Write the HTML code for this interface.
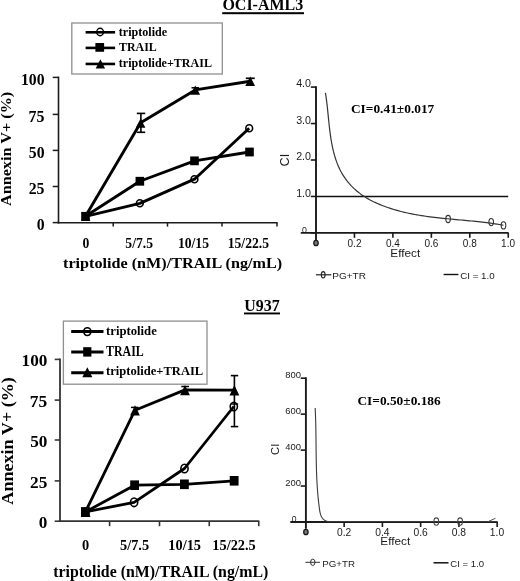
<!DOCTYPE html>
<html><head><meta charset="utf-8"><style>
html,body{margin:0;padding:0;background:#fff;}
body{width:520px;height:581px;overflow:hidden;}
svg{display:block;filter:grayscale(1);}
</style></head><body>
<svg width="520" height="581" viewBox="0 0 520 581">
<rect width="520" height="581" fill="#fff"/>
<text transform="matrix(0.16016 0 0 0.16269 222.40 10.24)" font-family='"Liberation Serif", serif' font-weight="bold" font-size="100" fill="#000">OCI-AML3</text>
<rect x="222.2" y="12.2" width="81.8" height="2.0" fill="#000"/>
<rect x="71.8" y="23" width="150.5" height="51" fill="none" stroke="#8f8f8f" stroke-width="1.3"/>
<line x1="85.6" y1="32.3" x2="115.1" y2="32.3" stroke="#000" stroke-width="2.6" stroke-linecap="butt"/>
<line x1="85.6" y1="47.9" x2="115.1" y2="47.9" stroke="#000" stroke-width="2.6" stroke-linecap="butt"/>
<line x1="85.6" y1="63.95" x2="115.1" y2="63.95" stroke="#000" stroke-width="2.6" stroke-linecap="butt"/>
<ellipse cx="100.1" cy="32.0" rx="3.4" ry="3.75" fill="none" stroke="#000" stroke-width="1.4"/>
<rect x="95.4" y="43.025" width="8.7" height="8.75" fill="#000"/>
<polygon points="95.70,68.40 105.10,68.40 100.40,59.30" fill="#000"/>
<text transform="matrix(0.12071 0 0 0.11655 118.82 35.60)" font-family='"Liberation Serif", serif' font-weight="bold" font-size="100" fill="#000">triptolide</text>
<text transform="matrix(0.11929 0 0 0.12273 119.02 51.40)" font-family='"Liberation Serif", serif' font-weight="bold" font-size="100" fill="#000">TRAIL</text>
<text transform="matrix(0.12044 0 0 0.11655 118.82 67.10)" font-family='"Liberation Serif", serif' font-weight="bold" font-size="100" fill="#000">triptolide+TRAIL</text>
<line x1="58.5" y1="76.6" x2="58.5" y2="223.5" stroke="#1c1c1c" stroke-width="1.6" stroke-linecap="butt"/>
<line x1="52.7" y1="222.6" x2="58.5" y2="222.6" stroke="#1c1c1c" stroke-width="1.5" stroke-linecap="butt"/>
<line x1="52.7" y1="186.5" x2="58.5" y2="186.5" stroke="#1c1c1c" stroke-width="1.5" stroke-linecap="butt"/>
<line x1="52.7" y1="150.4" x2="58.5" y2="150.4" stroke="#1c1c1c" stroke-width="1.5" stroke-linecap="butt"/>
<line x1="52.7" y1="114.4" x2="58.5" y2="114.4" stroke="#1c1c1c" stroke-width="1.5" stroke-linecap="butt"/>
<line x1="52.7" y1="77.4" x2="58.5" y2="77.4" stroke="#1c1c1c" stroke-width="1.5" stroke-linecap="butt"/>
<line x1="57.7" y1="222.7" x2="277.6" y2="222.7" stroke="#1c1c1c" stroke-width="1.6" stroke-linecap="butt"/>
<line x1="113.2" y1="222.7" x2="113.2" y2="226.6" stroke="#1c1c1c" stroke-width="1.5" stroke-linecap="butt"/>
<line x1="167.5" y1="222.7" x2="167.5" y2="226.6" stroke="#1c1c1c" stroke-width="1.5" stroke-linecap="butt"/>
<line x1="222" y1="222.7" x2="222" y2="226.6" stroke="#1c1c1c" stroke-width="1.5" stroke-linecap="butt"/>
<line x1="277" y1="222.7" x2="277" y2="226.6" stroke="#1c1c1c" stroke-width="1.5" stroke-linecap="butt"/>
<text transform="matrix(0.15704 0 0 0.15704 36.68 230.04)" font-family='"Liberation Serif", serif' font-weight="bold" font-size="100" fill="#000">0</text>
<text transform="matrix(0.15821 0 0 0.15821 28.63 193.94)" font-family='"Liberation Serif", serif' font-weight="bold" font-size="100" fill="#000">25</text>
<text transform="matrix(0.15704 0 0 0.15704 28.82 157.84)" font-family='"Liberation Serif", serif' font-weight="bold" font-size="100" fill="#000">50</text>
<text transform="matrix(0.15940 0 0 0.15940 28.52 121.84)" font-family='"Liberation Serif", serif' font-weight="bold" font-size="100" fill="#000">75</text>
<text transform="matrix(0.15704 0 0 0.15704 20.97 84.84)" font-family='"Liberation Serif", serif' font-weight="bold" font-size="100" fill="#000">100</text>
<text transform="matrix(0.13630 0 0 0.13630 82.39 248.36)" font-family='"Liberation Serif", serif' font-weight="bold" font-size="100" fill="#000">0</text>
<text transform="matrix(0.13630 0 0 0.13630 125.33 248.30)" font-family='"Liberation Serif", serif' font-weight="bold" font-size="100" fill="#000">5/7.5</text>
<text transform="matrix(0.13630 0 0 0.13630 177.96 248.36)" font-family='"Liberation Serif", serif' font-weight="bold" font-size="100" fill="#000">10/15</text>
<text transform="matrix(0.13630 0 0 0.13630 227.74 248.30)" font-family='"Liberation Serif", serif' font-weight="bold" font-size="100" fill="#000">15/22.5</text>
<text transform="matrix(0.16170 0 0 0.13957 63.06 268.20)" font-family='"Liberation Serif", serif' font-weight="bold" font-size="100" fill="#000">triptolide (nM)/TRAIL (ng/mL)</text>
<text transform="matrix(0 -0.16214 0.14964 0 10.80 206.06)" font-family='"Liberation Serif", serif' font-weight="bold" font-size="100" fill="#000">Annexin V+ (%)</text>
<line x1="140.9" y1="113.4" x2="140.9" y2="132.3" stroke="#000" stroke-width="1.6" stroke-linecap="butt"/>
<line x1="136.8" y1="113.4" x2="145.2" y2="113.4" stroke="#000" stroke-width="1.6" stroke-linecap="butt"/>
<line x1="136.8" y1="132.3" x2="145.2" y2="132.3" stroke="#000" stroke-width="1.6" stroke-linecap="butt"/>
<line x1="250.3" y1="78.3" x2="250.3" y2="85" stroke="#000" stroke-width="1.6" stroke-linecap="butt"/>
<line x1="245.8" y1="78.3" x2="254.8" y2="78.3" stroke="#000" stroke-width="1.7" stroke-linecap="butt"/>
<line x1="195.3" y1="87.8" x2="195.3" y2="92" stroke="#000" stroke-width="1.5" stroke-linecap="butt"/>
<line x1="191.5" y1="87.8" x2="199" y2="87.8" stroke="#000" stroke-width="1.5" stroke-linecap="butt"/>
<polyline points="85.50,216.30 139.85,181.25 194.50,160.85 249.50,152.00" fill="none" stroke="#000" stroke-width="2.9" stroke-linejoin="round" />
<polyline points="85.50,216.30 139.85,203.30 194.45,179.20 249.20,128.30" fill="none" stroke="#000" stroke-width="2.9" stroke-linejoin="round" />
<polyline points="85.50,216.30 140.60,122.80 195.30,89.90 250.20,81.20" fill="none" stroke="#000" stroke-width="2.9" stroke-linejoin="round" />
<rect x="81.2" y="211.9" width="8.6" height="8.8" fill="#000"/>
<rect x="135.54999999999998" y="176.85" width="8.6" height="8.8" fill="#000"/>
<rect x="190.2" y="156.45" width="8.6" height="8.8" fill="#000"/>
<rect x="245.2" y="147.6" width="8.6" height="8.8" fill="#000"/>
<polygon points="135.80,127.70 145.40,127.70 140.60,118.50" fill="#000"/>
<polygon points="190.50,94.80 200.10,94.80 195.30,85.60" fill="#000"/>
<polygon points="245.30,86.00 255.10,86.00 250.20,76.40" fill="#000"/>
<polygon points="80.90,220.90 90.30,220.90 85.60,212.30" fill="#000"/>
<ellipse cx="139.85" cy="203.3" rx="3.4" ry="3.5" fill="none" stroke="#000" stroke-width="1.6"/>
<ellipse cx="194.45" cy="179.2" rx="3.4" ry="3.5" fill="none" stroke="#000" stroke-width="1.6"/>
<ellipse cx="249.2" cy="128.3" rx="3.4" ry="3.5" fill="none" stroke="#000" stroke-width="1.6"/>
<line x1="316.0" y1="86.2" x2="316.0" y2="240.2" stroke="#1a1a1a" stroke-width="1.9" stroke-linecap="butt"/>
<line x1="310.8" y1="232.9" x2="316.0" y2="232.9" stroke="#1a1a1a" stroke-width="1.6" stroke-linecap="butt"/>
<line x1="310.8" y1="196.45" x2="316.0" y2="196.45" stroke="#1a1a1a" stroke-width="1.6" stroke-linecap="butt"/>
<line x1="310.8" y1="160.0" x2="316.0" y2="160.0" stroke="#1a1a1a" stroke-width="1.6" stroke-linecap="butt"/>
<line x1="310.8" y1="123.55" x2="316.0" y2="123.55" stroke="#1a1a1a" stroke-width="1.6" stroke-linecap="butt"/>
<line x1="310.8" y1="87.1" x2="316.0" y2="87.1" stroke="#1a1a1a" stroke-width="1.6" stroke-linecap="butt"/>
<line x1="300.8" y1="232.9" x2="508.6" y2="232.9" stroke="#1a1a1a" stroke-width="1.9" stroke-linecap="butt"/>
<line x1="354.45" y1="232.9" x2="354.45" y2="237.8" stroke="#1a1a1a" stroke-width="1.6" stroke-linecap="butt"/>
<line x1="392.9" y1="232.9" x2="392.9" y2="237.8" stroke="#1a1a1a" stroke-width="1.6" stroke-linecap="butt"/>
<line x1="431.35" y1="232.9" x2="431.35" y2="237.8" stroke="#1a1a1a" stroke-width="1.6" stroke-linecap="butt"/>
<line x1="469.8" y1="232.9" x2="469.8" y2="237.8" stroke="#1a1a1a" stroke-width="1.6" stroke-linecap="butt"/>
<line x1="508.25" y1="232.9" x2="508.25" y2="237.8" stroke="#1a1a1a" stroke-width="1.6" stroke-linecap="butt"/>
<text transform="matrix(0.10704 0 0 0.10704 296.15 196.74)" font-family='"Liberation Sans", sans-serif' font-weight="normal" font-size="100" fill="#1a1a1a">1.0</text>
<text transform="matrix(0.10704 0 0 0.10704 296.15 160.29)" font-family='"Liberation Sans", sans-serif' font-weight="normal" font-size="100" fill="#1a1a1a">2.0</text>
<text transform="matrix(0.10704 0 0 0.10704 296.15 123.84)" font-family='"Liberation Sans", sans-serif' font-weight="normal" font-size="100" fill="#1a1a1a">3.0</text>
<text transform="matrix(0.10704 0 0 0.10704 296.15 87.39)" font-family='"Liberation Sans", sans-serif' font-weight="normal" font-size="100" fill="#1a1a1a">4.0</text>
<text transform="matrix(0.08732 0 0 0.08732 302.00 232.61)" font-family='"Liberation Sans", sans-serif' font-weight="normal" font-size="100" fill="#1a1a1a">0</text>
<text transform="matrix(0.10000 0 0 0.10000 347.55 246.50)" font-family='"Liberation Sans", sans-serif' font-weight="normal" font-size="100" fill="#1a1a1a">0.2</text>
<text transform="matrix(0.10000 0 0 0.10000 385.90 246.50)" font-family='"Liberation Sans", sans-serif' font-weight="normal" font-size="100" fill="#1a1a1a">0.4</text>
<text transform="matrix(0.10000 0 0 0.10000 424.43 246.50)" font-family='"Liberation Sans", sans-serif' font-weight="normal" font-size="100" fill="#1a1a1a">0.6</text>
<text transform="matrix(0.10000 0 0 0.10000 462.85 246.50)" font-family='"Liberation Sans", sans-serif' font-weight="normal" font-size="100" fill="#1a1a1a">0.8</text>
<text transform="matrix(0.10000 0 0 0.10000 501.12 246.50)" font-family='"Liberation Sans", sans-serif' font-weight="normal" font-size="100" fill="#1a1a1a">1.0</text>
<ellipse cx="316.0" cy="243.0" rx="2.2" ry="2.7" fill="#777" stroke="#1a1a1a" stroke-width="1.3"/>
<text transform="matrix(0.11796 0 0 0.10884 390.36 256.89)" font-family='"Liberation Sans", sans-serif' font-weight="normal" font-size="100" fill="#1a1a1a">Effect</text>
<text transform="matrix(0 -0.12632 0.12394 0 289.48 166.43)" font-family='"Liberation Sans", sans-serif' font-weight="normal" font-size="100" fill="#1a1a1a">CI</text>
<line x1="316.0" y1="196.5" x2="508.2" y2="196.5" stroke="#111" stroke-width="1.5" stroke-linecap="butt"/>
<text transform="matrix(0.13404 0 0 0.12500 350.93 113.11)" font-family='"Liberation Serif", serif' font-weight="bold" font-size="100" fill="#000">CI=0.41±0.017</text>
<polyline points="325.40,92.79 325.73,94.77 326.04,96.78 326.33,98.82 326.60,100.89 326.85,102.97 327.10,105.08 327.34,107.21 327.56,109.35 327.79,111.51 328.01,113.69 328.22,115.88 328.44,118.08 328.67,120.28 328.90,122.50 329.13,124.72 329.38,126.95 329.64,129.17 329.91,131.40 330.21,133.62 330.52,135.85 330.85,138.06 331.20,140.28 331.58,142.48 331.99,144.67 332.43,146.85 332.91,149.02 333.41,151.17 333.96,153.30 334.54,155.42 335.17,157.51 335.84,159.59 336.55,161.63 337.31,163.66 338.13,165.65 338.99,167.62 339.91,169.55 340.89,171.45 341.93,173.32 343.03,175.15 344.19,176.94 345.41,178.70 346.68,180.41 348.01,182.08 349.40,183.72 350.84,185.31 352.33,186.85 353.87,188.35 355.45,189.81 357.08,191.22 358.76,192.58 360.48,193.89 362.24,195.15 364.05,196.36 365.88,197.51 367.76,198.62 369.66,199.69 371.59,200.71 373.54,201.69 375.52,202.62 377.51,203.52 379.52,204.38 381.54,205.21 383.56,206.00 385.60,206.77 387.65,207.50 389.70,208.19 391.77,208.86 393.84,209.50 395.92,210.11 398.01,210.70 400.10,211.26 402.21,211.79 404.32,212.30 406.44,212.79 408.56,213.25 410.69,213.69 412.82,214.11 414.96,214.51 417.11,214.89 419.26,215.26 421.41,215.60 423.57,215.94 425.73,216.25 427.90,216.55 430.07,216.84 432.24,217.12 434.41,217.38 436.59,217.63 438.77,217.88 440.95,218.11 443.13,218.34 445.31,218.56 447.49,218.77 449.68,218.98 451.86,219.19 454.04,219.39 456.22,219.59 458.41,219.79 460.59,219.98 462.76,220.18 464.94,220.38 467.11,220.58 469.28,220.78 471.45,220.99 473.62,221.21 475.78,221.42 477.94,221.65 480.09,221.88 482.24,222.13 484.39,222.38 486.53,222.64 488.66,222.91 490.79,223.20 492.91,223.50 495.03,223.81 497.14,224.14 499.24,224.48 501.34,224.84 503.43,225.22" fill="none" stroke="#333" stroke-width="1.2" stroke-linejoin="round" />
<ellipse cx="448.1" cy="219" rx="2.3" ry="3.6" fill="none" stroke="#333" stroke-width="1.1"/>
<ellipse cx="491.2" cy="222.1" rx="2.3" ry="3.6" fill="none" stroke="#333" stroke-width="1.1"/>
<ellipse cx="503.5" cy="225.4" rx="2.3" ry="3.6" fill="none" stroke="#333" stroke-width="1.1"/>
<line x1="315.9" y1="274.8" x2="331.3" y2="274.8" stroke="#222" stroke-width="1.2" stroke-linecap="butt"/>
<ellipse cx="323.2" cy="274.8" rx="1.9" ry="3.2" fill="none" stroke="#222" stroke-width="1.1"/>
<text transform="matrix(0.10077 0 0 0.09859 332.19 279.30)" font-family='"Liberation Sans", sans-serif' font-weight="normal" font-size="100" fill="#1a1a1a">PG+TR</text>
<line x1="443.6" y1="274.5" x2="458.4" y2="274.5" stroke="#111" stroke-width="1.4" stroke-linecap="butt"/>
<text transform="matrix(0.09738 0 0 0.09859 460.31 279.30)" font-family='"Liberation Sans", sans-serif' font-weight="normal" font-size="100" fill="#1a1a1a">CI = 1.0</text>
<text transform="matrix(0.15945 0 0 0.16119 244.20 310.64)" font-family='"Liberation Serif", serif' font-weight="bold" font-size="100" fill="#000">U937</text>
<rect x="244" y="312.5" width="36" height="1.9" fill="#000"/>
<rect x="63.4" y="321.1" width="143.6" height="63.1" fill="none" stroke="#8f8f8f" stroke-width="1.3"/>
<line x1="71.2" y1="331.6" x2="103.5" y2="331.6" stroke="#000" stroke-width="3" stroke-linecap="butt"/>
<line x1="71.2" y1="351.9" x2="103.5" y2="351.9" stroke="#000" stroke-width="3" stroke-linecap="butt"/>
<line x1="71.2" y1="372.7" x2="103.5" y2="372.7" stroke="#000" stroke-width="3" stroke-linecap="butt"/>
<ellipse cx="87.3" cy="331.6" rx="3.6" ry="3.9" fill="none" stroke="#000" stroke-width="1.6"/>
<rect x="83.2" y="347.2" width="8.2" height="9.4" fill="#000"/>
<polygon points="82.30,377.20 92.30,377.20 87.30,367.20" fill="#000"/>
<text transform="matrix(0.12677 0 0 0.12806 106.11 335.20)" font-family='"Liberation Serif", serif' font-weight="bold" font-size="100" fill="#000">triptolide</text>
<text transform="matrix(0.11897 0 0 0.14545 106.12 355.60)" font-family='"Liberation Serif", serif' font-weight="bold" font-size="100" fill="#000">TRAIL</text>
<text transform="matrix(0.12565 0 0 0.12518 106.11 375.40)" font-family='"Liberation Serif", serif' font-weight="bold" font-size="100" fill="#000">triptolide+TRAIL</text>
<line x1="60.0" y1="358.6" x2="60.0" y2="522.0" stroke="#353535" stroke-width="1.8" stroke-linecap="butt"/>
<line x1="54.7" y1="521.2" x2="60.0" y2="521.2" stroke="#353535" stroke-width="1.6" stroke-linecap="butt"/>
<line x1="54.7" y1="480.9" x2="60.0" y2="480.9" stroke="#353535" stroke-width="1.6" stroke-linecap="butt"/>
<line x1="54.7" y1="440.0" x2="60.0" y2="440.0" stroke="#353535" stroke-width="1.6" stroke-linecap="butt"/>
<line x1="54.7" y1="400.1" x2="60.0" y2="400.1" stroke="#353535" stroke-width="1.6" stroke-linecap="butt"/>
<line x1="54.7" y1="359.4" x2="60.0" y2="359.4" stroke="#353535" stroke-width="1.6" stroke-linecap="butt"/>
<line x1="59.1" y1="521.1" x2="259.3" y2="521.1" stroke="#333" stroke-width="1.8" stroke-linecap="butt"/>
<line x1="109.6" y1="521.1" x2="109.6" y2="526.2" stroke="#333" stroke-width="1.6" stroke-linecap="butt"/>
<line x1="159.5" y1="521.1" x2="159.5" y2="526.2" stroke="#333" stroke-width="1.6" stroke-linecap="butt"/>
<line x1="209.25" y1="521.1" x2="209.25" y2="526.2" stroke="#333" stroke-width="1.6" stroke-linecap="butt"/>
<line x1="258.75" y1="521.1" x2="258.75" y2="526.2" stroke="#333" stroke-width="1.6" stroke-linecap="butt"/>
<text transform="matrix(0.17185 0 0 0.17185 38.79 528.23)" font-family='"Liberation Serif", serif' font-weight="bold" font-size="100" fill="#000">0</text>
<text transform="matrix(0.17313 0 0 0.17313 29.99 487.93)" font-family='"Liberation Serif", serif' font-weight="bold" font-size="100" fill="#000">25</text>
<text transform="matrix(0.17185 0 0 0.17185 30.20 447.03)" font-family='"Liberation Serif", serif' font-weight="bold" font-size="100" fill="#000">50</text>
<text transform="matrix(0.17444 0 0 0.17444 29.87 407.13)" font-family='"Liberation Serif", serif' font-weight="bold" font-size="100" fill="#000">75</text>
<text transform="matrix(0.17185 0 0 0.17185 21.61 366.43)" font-family='"Liberation Serif", serif' font-weight="bold" font-size="100" fill="#000">100</text>
<text transform="matrix(0.14370 0 0 0.14370 82.01 550.06)" font-family='"Liberation Serif", serif' font-weight="bold" font-size="100" fill="#000">0</text>
<text transform="matrix(0.14370 0 0 0.14370 119.98 549.98)" font-family='"Liberation Serif", serif' font-weight="bold" font-size="100" fill="#000">5/7.5</text>
<text transform="matrix(0.14370 0 0 0.14370 168.29 550.06)" font-family='"Liberation Serif", serif' font-weight="bold" font-size="100" fill="#000">10/15</text>
<text transform="matrix(0.14370 0 0 0.14370 212.31 549.98)" font-family='"Liberation Serif", serif' font-weight="bold" font-size="100" fill="#000">15/22.5</text>
<text transform="matrix(0.15867 0 0 0.17266 53.26 576.50)" font-family='"Liberation Serif", serif' font-weight="bold" font-size="100" fill="#000">triptolide (nM)/TRAIL (ng/mL)</text>
<text transform="matrix(0 -0.18100 0.17554 0 12.90 504.68)" font-family='"Liberation Serif", serif' font-weight="bold" font-size="100" fill="#000">Annexin V+ (%)</text>
<line x1="234.4" y1="375.6" x2="234.4" y2="426.6" stroke="#000" stroke-width="1.6" stroke-linecap="butt"/>
<line x1="230.8" y1="375.6" x2="238.2" y2="375.6" stroke="#000" stroke-width="1.6" stroke-linecap="butt"/>
<line x1="230.8" y1="426.6" x2="238.2" y2="426.6" stroke="#000" stroke-width="1.6" stroke-linecap="butt"/>
<line x1="230.8" y1="404" x2="238.2" y2="404" stroke="#000" stroke-width="1.4" stroke-linecap="butt"/>
<line x1="134.7" y1="407.4" x2="134.7" y2="413" stroke="#000" stroke-width="1.5" stroke-linecap="butt"/>
<line x1="131" y1="407.4" x2="138.4" y2="407.4" stroke="#000" stroke-width="1.5" stroke-linecap="butt"/>
<line x1="184.8" y1="386.5" x2="184.8" y2="392" stroke="#000" stroke-width="1.5" stroke-linecap="butt"/>
<line x1="181.3" y1="386.5" x2="189.0" y2="386.5" stroke="#000" stroke-width="1.5" stroke-linecap="butt"/>
<polyline points="85.40,511.90 134.60,485.20 184.40,484.30 234.15,480.80" fill="none" stroke="#000" stroke-width="2.8" stroke-linejoin="round" />
<polyline points="85.40,511.90 134.10,502.30 184.50,468.50 233.80,406.50" fill="none" stroke="#000" stroke-width="2.8" stroke-linejoin="round" />
<polyline points="85.40,511.90 135.00,410.20 185.00,389.90 234.40,390.10" fill="none" stroke="#000" stroke-width="2.8" stroke-linejoin="round" />
<rect x="81.0" y="507.09999999999997" width="8.8" height="9.6" fill="#000"/>
<rect x="130.2" y="480.4" width="8.8" height="9.6" fill="#000"/>
<rect x="180.0" y="479.5" width="8.8" height="9.6" fill="#000"/>
<rect x="229.75" y="476.0" width="8.8" height="9.6" fill="#000"/>
<polygon points="130.10,415.60 139.90,415.60 135.00,405.20" fill="#000"/>
<polygon points="180.10,395.30 189.90,395.30 185.00,384.90" fill="#000"/>
<polygon points="229.50,395.50 239.30,395.50 234.40,385.10" fill="#000"/>
<polygon points="80.70,517.00 90.50,517.00 85.60,507.40" fill="#000"/>
<ellipse cx="134.1" cy="502.3" rx="3.6" ry="4.3" fill="none" stroke="#000" stroke-width="1.6"/>
<ellipse cx="184.5" cy="468.5" rx="3.6" ry="4.3" fill="none" stroke="#000" stroke-width="1.6"/>
<ellipse cx="233.8" cy="406.5" rx="3.6" ry="4.3" fill="none" stroke="#000" stroke-width="1.6"/>
<line x1="305.9" y1="377.3" x2="305.9" y2="528.8" stroke="#1a1a1a" stroke-width="1.9" stroke-linecap="butt"/>
<line x1="300.7" y1="522.0" x2="305.9" y2="522.0" stroke="#1a1a1a" stroke-width="1.6" stroke-linecap="butt"/>
<line x1="300.7" y1="486.05" x2="305.9" y2="486.05" stroke="#1a1a1a" stroke-width="1.6" stroke-linecap="butt"/>
<line x1="300.7" y1="450.1" x2="305.9" y2="450.1" stroke="#1a1a1a" stroke-width="1.6" stroke-linecap="butt"/>
<line x1="300.7" y1="414.15" x2="305.9" y2="414.15" stroke="#1a1a1a" stroke-width="1.6" stroke-linecap="butt"/>
<line x1="300.7" y1="378.2" x2="305.9" y2="378.2" stroke="#1a1a1a" stroke-width="1.6" stroke-linecap="butt"/>
<line x1="290.3" y1="522.0" x2="497.6" y2="522.0" stroke="#1a1a1a" stroke-width="1.9" stroke-linecap="butt"/>
<line x1="344.15" y1="522.0" x2="344.15" y2="527" stroke="#1a1a1a" stroke-width="1.6" stroke-linecap="butt"/>
<line x1="382.4" y1="522.0" x2="382.4" y2="527" stroke="#1a1a1a" stroke-width="1.6" stroke-linecap="butt"/>
<line x1="420.65" y1="522.0" x2="420.65" y2="527" stroke="#1a1a1a" stroke-width="1.6" stroke-linecap="butt"/>
<line x1="458.9" y1="522.0" x2="458.9" y2="527" stroke="#1a1a1a" stroke-width="1.6" stroke-linecap="butt"/>
<line x1="497.15" y1="522.0" x2="497.15" y2="527" stroke="#1a1a1a" stroke-width="1.6" stroke-linecap="butt"/>
<text transform="matrix(0.09437 0 0 0.09437 285.27 486.26)" font-family='"Liberation Sans", sans-serif' font-weight="normal" font-size="100" fill="#1a1a1a">200</text>
<text transform="matrix(0.09437 0 0 0.09437 285.27 450.31)" font-family='"Liberation Sans", sans-serif' font-weight="normal" font-size="100" fill="#1a1a1a">400</text>
<text transform="matrix(0.09437 0 0 0.09437 285.27 414.36)" font-family='"Liberation Sans", sans-serif' font-weight="normal" font-size="100" fill="#1a1a1a">600</text>
<text transform="matrix(0.09437 0 0 0.09437 285.27 378.41)" font-family='"Liberation Sans", sans-serif' font-weight="normal" font-size="100" fill="#1a1a1a">800</text>
<text transform="matrix(0.08592 0 0 0.08592 291.68 521.61)" font-family='"Liberation Sans", sans-serif' font-weight="normal" font-size="100" fill="#1a1a1a">0</text>
<text transform="matrix(0.10282 0 0 0.10282 337.06 535.50)" font-family='"Liberation Sans", sans-serif' font-weight="normal" font-size="100" fill="#1a1a1a">0.2</text>
<text transform="matrix(0.10282 0 0 0.10282 375.20 535.50)" font-family='"Liberation Sans", sans-serif' font-weight="normal" font-size="100" fill="#1a1a1a">0.4</text>
<text transform="matrix(0.10282 0 0 0.10282 413.53 535.50)" font-family='"Liberation Sans", sans-serif' font-weight="normal" font-size="100" fill="#1a1a1a">0.6</text>
<text transform="matrix(0.10282 0 0 0.10282 451.75 535.50)" font-family='"Liberation Sans", sans-serif' font-weight="normal" font-size="100" fill="#1a1a1a">0.8</text>
<text transform="matrix(0.10282 0 0 0.10282 489.82 535.50)" font-family='"Liberation Sans", sans-serif' font-weight="normal" font-size="100" fill="#1a1a1a">1.0</text>
<ellipse cx="305.9" cy="532" rx="2.2" ry="2.7" fill="#777" stroke="#1a1a1a" stroke-width="1.3"/>
<text transform="matrix(0.11796 0 0 0.11020 380.36 545.09)" font-family='"Liberation Sans", sans-serif' font-weight="normal" font-size="100" fill="#1a1a1a">Effect</text>
<text transform="matrix(0 -0.11228 0.11549 0 279.48 454.96)" font-family='"Liberation Sans", sans-serif' font-weight="normal" font-size="100" fill="#1a1a1a">CI</text>
<text transform="matrix(0.13382 0 0 0.11912 357.43 405.42)" font-family='"Liberation Serif", serif' font-weight="bold" font-size="100" fill="#000">CI=0.50±0.186</text>
<polyline points="315.15,407.98 315.20,409.02 315.25,410.06 315.30,411.10 315.35,412.14 315.39,413.18 315.44,414.22 315.48,415.26 315.51,416.30 315.55,417.33 315.58,418.37 315.62,419.40 315.65,420.44 315.68,421.47 315.71,422.51 315.73,423.54 315.76,424.57 315.78,425.60 315.80,426.63 315.82,427.67 315.84,428.70 315.86,429.73 315.88,430.76 315.89,431.79 315.91,432.82 315.92,433.84 315.94,434.87 315.95,435.90 315.96,436.93 315.98,437.96 315.99,438.98 316.00,440.01 316.01,441.04 316.02,442.06 316.03,443.09 316.04,444.12 316.05,445.14 316.06,446.17 316.07,447.19 316.08,448.22 316.09,449.24 316.11,450.27 316.12,451.29 316.13,452.32 316.14,453.34 316.15,454.37 316.17,455.39 316.18,456.42 316.20,457.44 316.21,458.47 316.23,459.49 316.25,460.52 316.26,461.54 316.28,462.57 316.31,463.59 316.33,464.62 316.35,465.64 316.38,466.67 316.40,467.70 316.43,468.72 316.46,469.75 316.49,470.77 316.53,471.80 316.56,472.83 316.60,473.85 316.64,474.88 316.68,475.91 316.72,476.94 316.76,477.96 316.81,478.99 316.86,480.02 316.91,481.05 316.97,482.08 317.03,483.11 317.09,484.14 317.15,485.17 317.21,486.20 317.28,487.23 317.35,488.26 317.42,489.30 317.50,490.33 317.58,491.36 317.66,492.40 317.75,493.43 317.84,494.47 317.93,495.50 318.03,496.54 318.13,497.57 318.23,498.61 318.34,499.65 318.45,500.69 318.56,501.73 318.68,502.77 318.80,503.81 318.93,504.85 319.06,505.89 319.19,506.94 319.33,507.98 319.47,509.02 319.63,510.06 319.80,511.09 319.99,512.11 320.21,513.11 320.47,514.08 320.77,515.01 321.12,515.91 321.53,516.77 322.00,517.58 322.54,518.34 323.16,519.04 323.86,519.67 324.65,520.23 325.54,520.72 326.50,521.12 327.54,521.44 328.63,521.66 329.76,521.78 330.90,521.80 332.05,521.70 333.19,521.49 497.00,521.50" fill="none" stroke="#3a3a3a" stroke-width="1.1" stroke-linejoin="round" />
<ellipse cx="436.3" cy="521.6" rx="2.4" ry="3.7" fill="none" stroke="#444" stroke-width="1.1"/>
<ellipse cx="460.1" cy="521.6" rx="2.4" ry="3.7" fill="none" stroke="#444" stroke-width="1.1"/>
<line x1="488.5" y1="521.4" x2="495.5" y2="518.3" stroke="#555" stroke-width="1" stroke-linecap="butt"/>
<line x1="305.4" y1="562.3" x2="320" y2="562.3" stroke="#333" stroke-width="1" stroke-linecap="butt"/>
<ellipse cx="312.8" cy="562.3" rx="2.2" ry="3.2" fill="none" stroke="#333" stroke-width="1"/>
<text transform="matrix(0.09737 0 0 0.09296 322.32 566.71)" font-family='"Liberation Sans", sans-serif' font-weight="normal" font-size="100" fill="#1a1a1a">PG+TR</text>
<line x1="433.5" y1="562.8" x2="448.5" y2="562.8" stroke="#111" stroke-width="1.5" stroke-linecap="butt"/>
<text transform="matrix(0.09593 0 0 0.09155 450.32 566.81)" font-family='"Liberation Sans", sans-serif' font-weight="normal" font-size="100" fill="#1a1a1a">CI = 1.0</text>
</svg>
</body></html>
